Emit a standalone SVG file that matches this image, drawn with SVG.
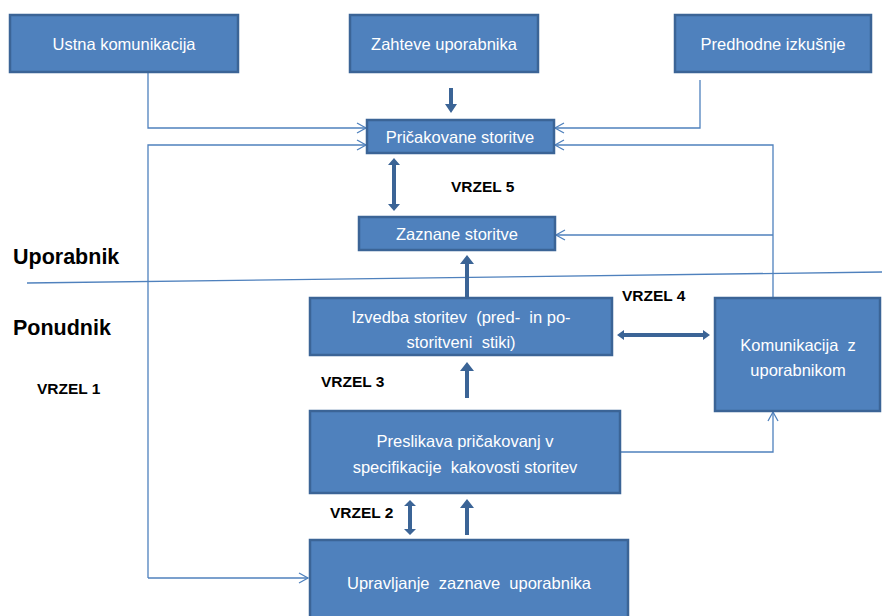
<svg xmlns="http://www.w3.org/2000/svg" width="882" height="616" viewBox="0 0 882 616">
<defs>
<marker id="open" markerWidth="12" markerHeight="12" refX="10" refY="6" orient="auto" markerUnits="userSpaceOnUse">
<path d="M1,1 L10,6 L1,11" fill="none" stroke="#4f81bd" stroke-width="1.3"/>
</marker>
<style>
.box{fill:#4f81bd;stroke:#3b6496;stroke-width:2.5}
.t{font-family:"Liberation Sans",Arial,sans-serif;font-size:16.5px;fill:#ffffff;text-anchor:middle;white-space:pre}
.c{fill:none;stroke:#4f81bd;stroke-width:1.3}
.ca{fill:none;stroke:#4f81bd;stroke-width:1.3;marker-end:url(#open)}
.thick{fill:#3b6496;stroke:none}
.lbl{font-family:"Liberation Sans",Arial,sans-serif;font-weight:bold;font-size:15.5px;fill:#000}
.big{font-family:"Liberation Sans",Arial,sans-serif;font-weight:bold;font-size:21.5px;fill:#000}
</style>
</defs>
<rect width="882" height="616" fill="#ffffff"/>
<g id="connectors">
<polyline class="ca" points="148,72 148,128 366,128"/>
<polyline class="ca" points="148,578 148,145 366,145"/>
<polyline class="ca" points="148,578 308,578"/>
<polyline class="ca" points="700,80 700,128 555,128"/>
<polyline class="ca" points="773,298 773,145 555,145"/>
<polyline class="ca" points="773,235 556,235"/>
<polyline class="ca" points="620,452 773,452 773,412"/>
<line x1="27" y1="283" x2="882" y2="272" stroke="#4f81bd" stroke-width="1.3"/>
<polygon class="thick" points="449,88 453,88 453,104 457,104 451,113 445,104 449,104"/>
<polygon class="thick" points="394,158 400,165 396,165 396,204 400,204 394,211 388,204 392,204 392,165 388,165"/>
<polygon class="thick" points="465,297 469,297 469,264 474,264 467,255 460,264 465,264"/>
<polygon class="thick" points="465,398 469,398 469,371 474,371 467,362 460,371 465,371"/>
<polygon class="thick" points="617,335 624,330 624,333 703,333 703,330 710,335 703,340 703,337 624,337 624,340"/>
<polygon class="thick" points="410,500 416,506 412,506 412,529 416,529 410,535 404,529 408,529 408,506 404,506"/>
<polygon class="thick" points="465,535 469,535 469,508 474,508 467,499 460,508 465,508"/>
</g>
<g id="n_ustna"><rect class="box" x="10" y="15" width="228" height="57"/><text class="t" x="124" y="50">Ustna komunikacija</text></g>
<g id="n_zahteve"><rect class="box" x="350" y="15" width="188" height="57"/><text class="t" x="444" y="50">Zahteve uporabnika</text></g>
<g id="n_predhodne"><rect class="box" x="675" y="15" width="196" height="57"/><text class="t" x="773" y="50">Predhodne izkušnje</text></g>
<g id="n_pricakovane"><rect class="box" x="367" y="120" width="187" height="33"/><text class="t" x="460" y="143">Pričakovane storitve</text></g>
<g id="n_zaznane"><rect class="box" x="359" y="217" width="196" height="33"/><text class="t" x="457" y="240">Zaznane storitve</text></g>
<g id="n_izvedba"><rect class="box" x="310" y="298" width="302" height="57"/><text class="t" x="461" y="323">Izvedba storitev  (pred-  in po-</text><text class="t" x="461" y="348">storitveni  stiki)</text></g>
<g id="n_komunikacija"><rect class="box" x="715" y="298" width="165" height="113"/><text class="t" x="798" y="351">Komunikacija  z</text><text class="t" x="798" y="376">uporabnikom</text></g>
<g id="n_preslikava"><rect class="box" x="310" y="411" width="310" height="82"/><text class="t" x="465" y="447">Preslikava pričakovanj v</text><text class="t" x="465" y="473">specifikacije  kakovosti storitev</text></g>
<g id="n_upravljanje"><rect class="box" x="310" y="540" width="318" height="80"/><text class="t" x="469" y="589">Upravljanje  zaznave  uporabnika</text></g>
<g id="labels">
<text class="big" x="13" y="264">Uporabnik</text>
<text class="big" x="13" y="335">Ponudnik</text>
<text class="lbl" x="37" y="394">VRZEL 1</text>
<text class="lbl" x="330" y="518">VRZEL 2</text>
<text class="lbl" x="321" y="387">VRZEL 3</text>
<text class="lbl" x="622" y="301">VRZEL 4</text>
<text class="lbl" x="451" y="192">VRZEL 5</text>
</g>
</svg>
